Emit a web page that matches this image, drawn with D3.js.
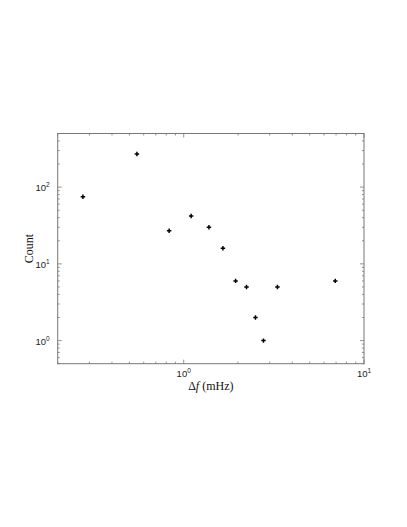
<!DOCTYPE html>
<html lang="en">
<meta charset="UTF-8">
<title>Count vs delta f</title>
<script src="https://d3js.org/d3.v7.min.js"></script>
<style>
  body { margin: 0; background: #fff; }
  .tick-lab { font-family: "Liberation Sans", sans-serif; font-size: 9.5px; fill: #222; }
  .ax-lab { font-family: "Liberation Serif", "DejaVu Serif", serif; font-size: 12px; fill: #111; }
</style>
<body>
<div id="chart"></div>
<script>
// data
var deltaF = [0.276, 0.55, 0.83, 1.10, 1.38, 1.65, 1.94, 2.23, 2.50, 2.77, 3.31, 6.93];
var counts = [75, 270, 27, 42, 30, 16, 6, 5, 2, 1, 5, 6];
var xTicks = [1, 10];
var yTicks = [1, 10, 100];

var W = 407, H = 527;
var plotL = 57.7, plotR = 364, plotT = 133.5, plotB = 363.7;

var svg = d3.select("#chart").append("svg")
  .attr("width", W).attr("height", H);

var x = d3.scaleLog().domain([0.2, 10]).range([plotL, plotR]);
var y = d3.scaleLog().domain([0.5, 500]).range([plotB, plotT]);

// minor + major ticks for a log axis inside the domain
function logTicks(dom) {
  var out = [];
  for (var e = -2; e <= 3; e++) {
    for (var m = 1; m <= 9; m++) {
      var v = m * Math.pow(10, e);
      if (v >= dom[0] - 1e-9 && v <= dom[1] + 1e-9) out.push({v: v, major: m === 1});
    }
  }
  return out;
}

var g = svg.append("g");
var axCol = "#777";

g.append("rect")
  .attr("x", plotL).attr("y", plotT)
  .attr("width", plotR - plotL).attr("height", plotB - plotT)
  .attr("fill", "none").attr("stroke", axCol).attr("stroke-width", 1);

logTicks(x.domain()).forEach(function (t) {
  var len = t.major ? 4 : 2;
  var px = x(t.v);
  g.append("line").attr("x1", px).attr("x2", px).attr("y1", plotB).attr("y2", plotB - len)
    .attr("stroke", axCol).attr("stroke-width", 0.8);
  g.append("line").attr("x1", px).attr("x2", px).attr("y1", plotT).attr("y2", plotT + len)
    .attr("stroke", axCol).attr("stroke-width", 0.8);
});
logTicks(y.domain()).forEach(function (t) {
  var len = t.major ? 4 : 2;
  var py = y(t.v);
  g.append("line").attr("x1", plotL).attr("x2", plotL + len).attr("y1", py).attr("y2", py)
    .attr("stroke", axCol).attr("stroke-width", 0.8);
  g.append("line").attr("x1", plotR).attr("x2", plotR - len).attr("y1", py).attr("y2", py)
    .attr("stroke", axCol).attr("stroke-width", 0.8);
});

// tick labels as 10 with superscript exponent
xTicks.forEach(function (v) {
  var t = g.append("text").attr("class", "tick-lab")
    .attr("x", x(v)).attr("y", plotB + 13).attr("text-anchor", "middle");
  t.append("tspan").text("10");
  t.append("tspan").attr("dy", -4).attr("font-size", 6.5).text(Math.round(Math.log10(v)));
});
yTicks.forEach(function (v) {
  var t = g.append("text").attr("class", "tick-lab")
    .attr("x", plotL - 8).attr("y", y(v) + 4).attr("text-anchor", "end");
  t.append("tspan").text("10");
  t.append("tspan").attr("dy", -4).attr("font-size", 6.5).text(Math.round(Math.log10(v)));
});

// axis titles
var xl = g.append("text").attr("class", "ax-lab")
  .attr("x", (plotL + plotR) / 2).attr("y", 390).attr("text-anchor", "middle");
xl.append("tspan").text("\u0394");
xl.append("tspan").attr("font-style", "italic").text("f");
xl.append("tspan").text(" (mHz)");

g.append("text").attr("class", "ax-lab")
  .attr("transform", "translate(33," + ((plotT + plotB) / 2) + ") rotate(-90)")
  .attr("text-anchor", "middle").text("Count");

// markers
g.selectAll("path.pt")
  .data(deltaF)
  .join("path")
  .attr("class", "pt")
  .attr("d", d3.symbol().type(d3.symbolCross).size(11))
  .attr("transform", function (d, i) { return "translate(" + x(d) + "," + y(counts[i]) + ")"; })
  .attr("fill", "#000");
</script>
</body>
</html>
